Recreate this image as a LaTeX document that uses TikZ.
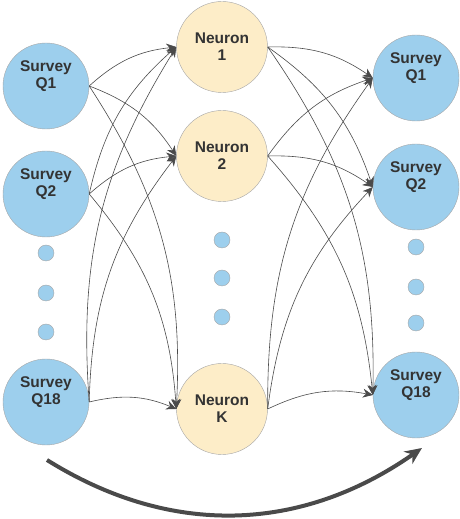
\documentclass[tikz,border=0pt]{standalone}
\usepackage{fontspec}
\setmainfont{Liberation Sans}
\usetikzlibrary{arrows.meta}
\definecolor{surveyblue}{HTML}{9DCFED}
\definecolor{neuroncream}{HTML}{FDEDC8}
\definecolor{rimgray}{HTML}{A6A6A6}
\definecolor{inkgray}{HTML}{333333}
\definecolor{wiregray}{HTML}{4A4A4A}
\tikzset{
  survey/.style={circle, draw=rimgray, fill=surveyblue, minimum size=86pt, inner sep=0pt},
  neuron/.style={circle, draw=rimgray, fill=neuroncream, minimum size=91pt, inner sep=0pt,
    font=\fontsize{15.5}{17}\selectfont\bfseries, text=inkgray, align=center},
  blob/.style={circle, draw=rimgray, fill=surveyblue, minimum size=16pt, inner sep=0pt},
  qtext/.style={font=\fontsize{15.5}{17}\selectfont\bfseries, text=inkgray, align=center, yshift=10pt},
  link/.style={->, draw=wiregray, line width=0.6pt, bend left=18},
}
\begin{document}
\begin{tikzpicture}[x=1pt, y=1pt, >={Stealth[length=10pt, width=9pt]}]
    \useasboundingbox (0,0) rectangle (459,519);
    % inputs
    \node [survey, label={[qtext]center:Survey\\Q1}] (q1) at (46,433) {};
    \node [survey, label={[qtext]center:Survey\\Q2}] (q2) at (46,325) {};
    \node [blob] (qa) at (46,266) {};
    \node [blob] (qb) at (46,226) {};
    \node [blob] (qc) at (46,187) {};
    \node [survey, label={[qtext]center:Survey\\Q18}] (q18) at (46,117) {};
    % hidden layer
    \node [neuron] (n1) at (222,472) {Neuron\\1};
    \node [neuron] (n2) at (222,363) {Neuron\\2};
    \node [blob] (na) at (222,279) {};
    \node [blob] (nb) at (222,241) {};
    \node [blob] (nc) at (222,202) {};
    \node [neuron] (nk) at (222,110) {Neuron\\K};
    % outputs
    \node [survey, label={[qtext]center:Survey\\Q1}] (r1) at (416,441) {};
    \node [survey, label={[qtext]center:Survey\\Q2}] (r2) at (416,332) {};
    \node [blob] (ra) at (416,272) {};
    \node [blob] (rb) at (416,232) {};
    \node [blob] (rc) at (416,196) {};
    \node [survey, label={[qtext]center:Survey\\Q18}] (r18) at (416,124) {};
    % encoder links
    \draw [link] (q1.east) to (n1.west);
    \draw [link] (q1.east) to (n2.west);
    \draw [link] (q1.east) to (nk.west);
    \draw [link] (q2.east) to (n1.west);
    \draw [link] (q2.east) to (n2.west);
    \draw [link] (q2.east) to (nk.west);
    \draw [link] (q18.east) to (n1.west);
    \draw [link] (q18.east) to (n2.west);
    \draw [link] (q18.east) to (nk.west);
    % decoder links
    \draw [link] (n1.east) to (r1.west);
    \draw [link] (n1.east) to (r2.west);
    \draw [link] (n1.east) to (r18.west);
    \draw [link] (n2.east) to (r1.west);
    \draw [link] (n2.east) to (r2.west);
    \draw [link] (n2.east) to (r18.west);
    \draw [link] (nk.east) to (r1.west);
    \draw [link] (nk.east) to (r2.west);
    \draw [link] (nk.east) to (r18.west);
    % big arrow
    \coordinate (arcstart) at (47,59);
    \coordinate (arcend) at (422,71);
    \draw [-{Stealth[length=17pt, width=15pt]}, draw=wiregray, line width=4pt]
        (arcstart) to [out=-32, in=215] (arcend);
\end{tikzpicture}
\end{document}
